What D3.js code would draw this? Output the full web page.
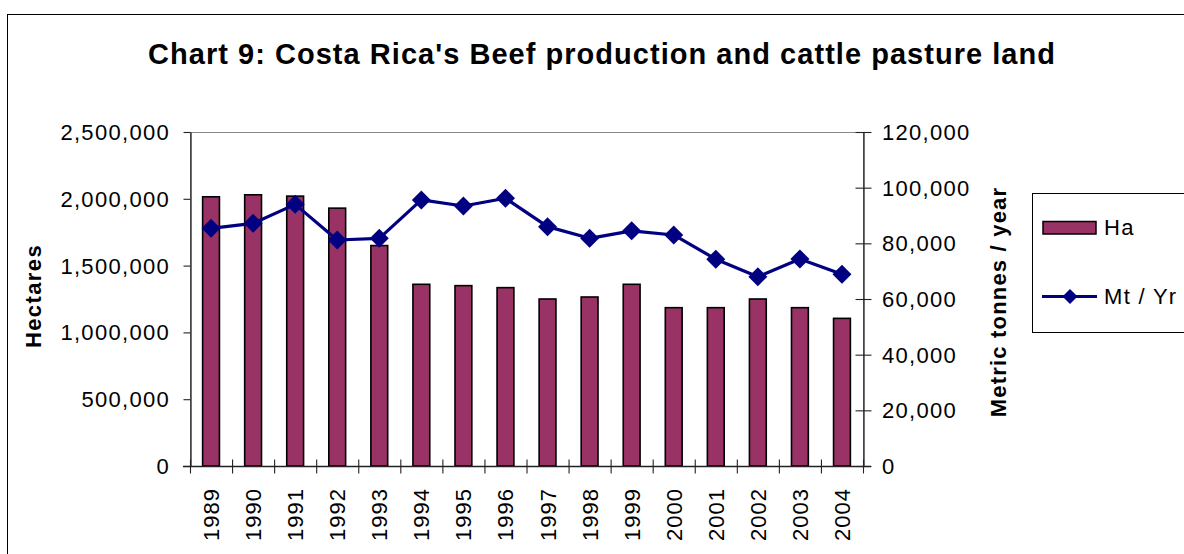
<!DOCTYPE html>
<html>
<head>
<meta charset="utf-8">
<script src="https://cdn.jsdelivr.net/npm/d3@7"></script>
<style>
  html, body { margin: 0; padding: 0; background: #fff; }
  svg { display: block; }
  text { font-family: "Liberation Sans", Arial, sans-serif; fill: #000; }
</style>
</head>
<body>
<svg id="chart" width="1184" height="554"></svg>
<script>
// Costa Rica: cattle pasture area (hectares) and beef output (metric tonnes per year)
const years = ["1989","1990","1991","1992","1993","1994","1995","1996",
               "1997","1998","1999","2000","2001","2002","2003","2004"];
const hectares = [2015000, 2030000, 2020000, 1930000, 1650000, 1360000, 1350000, 1335000,
                  1250000, 1265000, 1360000, 1185000, 1185000, 1250000, 1185000, 1105000];
const beefTonnes = [85400, 87200, 94000, 81200, 81800, 95600, 93400, 96200,
                    86000, 81800, 84500, 83000, 74300, 68000, 74400, 68900];
const leftTicks = [0, 500000, 1000000, 1500000, 2000000, 2500000];
const rightTicks = [0, 20000, 40000, 60000, 80000, 100000, 120000];
const seriesNames = ["Ha", "Mt / Yr"];

const BAR = "#993366", LINE = "#000080";
const svg = d3.select("#chart");
const plot = { left: 190, right: 863, top: 132, bottom: 466 };
const fmt = d3.format(",");
const FS = 22, LS = 1.3;

// outer chart frame
svg.append("rect").attr("x", 7.5).attr("y", 14.5).attr("width", 1300).attr("height", 700)
  .attr("fill", "none").attr("stroke", "#000").attr("stroke-width", 1);

// title
svg.append("text").attr("x", 148).attr("y", 64)
  .attr("font-size", 29).attr("font-weight", "bold")
  .attr("textLength", 907).attr("lengthAdjust", "spacing")
  .text("Chart 9: Costa Rica's Beef production and cattle pasture land");

// scales
const x = d3.scaleBand().domain(years).range([plot.left, plot.right])
  .paddingInner(0.6).paddingOuter(0.3);
const xEdge = d3.scaleLinear().domain([0, years.length]).range([plot.left, plot.right]);
const yL = d3.scaleLinear().domain([0, 2500000]).range([plot.bottom, plot.top]);
const yR = d3.scaleLinear().domain([0, 120000]).range([plot.bottom, plot.top]);

// plot-area border (grey)
svg.append("rect").attr("x", plot.left + 0.5).attr("y", plot.top + 0.5)
  .attr("width", plot.right - plot.left).attr("height", plot.bottom - plot.top)
  .attr("fill", "none").attr("stroke", "#888").attr("stroke-width", 1);

// bars
svg.append("g").selectAll("rect").data(years).join("rect")
  .attr("x", d => x(d))
  .attr("y", (d, i) => yL(hectares[i]))
  .attr("width", x.bandwidth())
  .attr("height", (d, i) => plot.bottom - yL(hectares[i]))
  .attr("fill", BAR).attr("stroke", "#000").attr("stroke-width", 1.6);

function styleAxis(g) {
  g.select(".domain").attr("stroke", "#222").attr("stroke-width", 1.3);
  g.selectAll(".tick line").attr("stroke", "#222").attr("stroke-width", 1.1);
  g.selectAll(".tick text").remove();
}

// left axis
const gL = svg.append("g").attr("transform", `translate(${plot.left + 0.5},0)`)
  .call(d3.axisLeft(yL).tickValues(leftTicks).tickSize(7).tickSizeOuter(0));
styleAxis(gL);
gL.selectAll(".tick line").attr("x1", -7).attr("x2", 0);
svg.append("g").selectAll("text").data(leftTicks).join("text")
  .attr("x", 170).attr("y", d => yL(d)).attr("dy", "0.36em")
  .attr("text-anchor", "end").attr("font-size", FS).attr("letter-spacing", LS)
  .text(d => fmt(d));

// right axis
const gR = svg.append("g").attr("transform", `translate(${plot.right + 0.5},0)`)
  .call(d3.axisRight(yR).tickValues(rightTicks).tickSize(8).tickSizeOuter(0));
styleAxis(gR);
gR.selectAll(".tick line").attr("x1", -8).attr("x2", 8);
svg.append("g").selectAll("text").data(rightTicks).join("text")
  .attr("x", 882).attr("y", d => yR(d)).attr("dy", "0.36em")
  .attr("text-anchor", "start").attr("font-size", FS).attr("letter-spacing", LS)
  .text(d => fmt(d));

// bottom axis: ticks on category boundaries, crossing the line
const gB = svg.append("g").attr("transform", `translate(0,${plot.bottom + 0.5})`)
  .call(d3.axisBottom(xEdge).tickValues(d3.range(years.length + 1)).tickSize(7).tickSizeOuter(0));
styleAxis(gB);
gB.selectAll(".tick line").attr("y1", -7).attr("y2", 7);
gB.select(".domain").attr("d", `M${plot.left - 7},0H${plot.right + 8}`);
svg.append("g").selectAll("text").data(years).join("text")
  .attr("transform", d => `translate(${x(d) + x.bandwidth() / 2 + 8},488) rotate(-90)`)
  .attr("text-anchor", "end").attr("font-size", FS).attr("letter-spacing", 1)
  .text(d => d);

// axis titles
svg.append("text").attr("transform", "translate(41,296) rotate(-90)")
  .attr("text-anchor", "middle").attr("font-size", FS).attr("font-weight", "bold")
  .attr("letter-spacing", 1.4).text("Hectares");
svg.append("text").attr("transform", "translate(1006,302) rotate(-90)")
  .attr("text-anchor", "middle").attr("font-size", FS).attr("font-weight", "bold")
  .attr("letter-spacing", 1.2).text("Metric tonnes / year");

// beef production line with diamond markers
const cx = (d) => x(d) + x.bandwidth() / 2;
const line = d3.line().x((d, i) => cx(years[i])).y(d => yR(d));
svg.append("path").datum(beefTonnes).attr("d", line)
  .attr("fill", "none").attr("stroke", LINE).attr("stroke-width", 3.2)
  .attr("stroke-linejoin", "round");
const diamond = (r) => `M0,${-r}L${r},0L0,${r}L${-r},0Z`;
svg.append("g").selectAll("path").data(beefTonnes).join("path")
  .attr("transform", (d, i) => `translate(${cx(years[i])},${yR(d)})`)
  .attr("d", diamond(9.5)).attr("fill", LINE);

// legend
const lg = svg.append("g");
lg.append("rect").attr("x", 1032.5).attr("y", 193.5).attr("width", 300).attr("height", 139)
  .attr("fill", "#fff").attr("stroke", "#000").attr("stroke-width", 1);
lg.append("rect").attr("x", 1043).attr("y", 221.5).attr("width", 53).attr("height", 12.5)
  .attr("fill", BAR).attr("stroke", "#000").attr("stroke-width", 1.5);
lg.append("text").attr("x", 1104).attr("y", 235).attr("font-size", FS)
  .attr("letter-spacing", LS).text(seriesNames[0]);
lg.append("line").attr("x1", 1042).attr("x2", 1097).attr("y1", 296.5).attr("y2", 296.5)
  .attr("stroke", LINE).attr("stroke-width", 3.2);
lg.append("path").attr("transform", "translate(1070,296.5)").attr("d", diamond(7.5)).attr("fill", LINE);
lg.append("text").attr("x", 1104).attr("y", 303.5).attr("font-size", FS)
  .attr("letter-spacing", LS).text(seriesNames[1]);
</script>
</body>
</html>
